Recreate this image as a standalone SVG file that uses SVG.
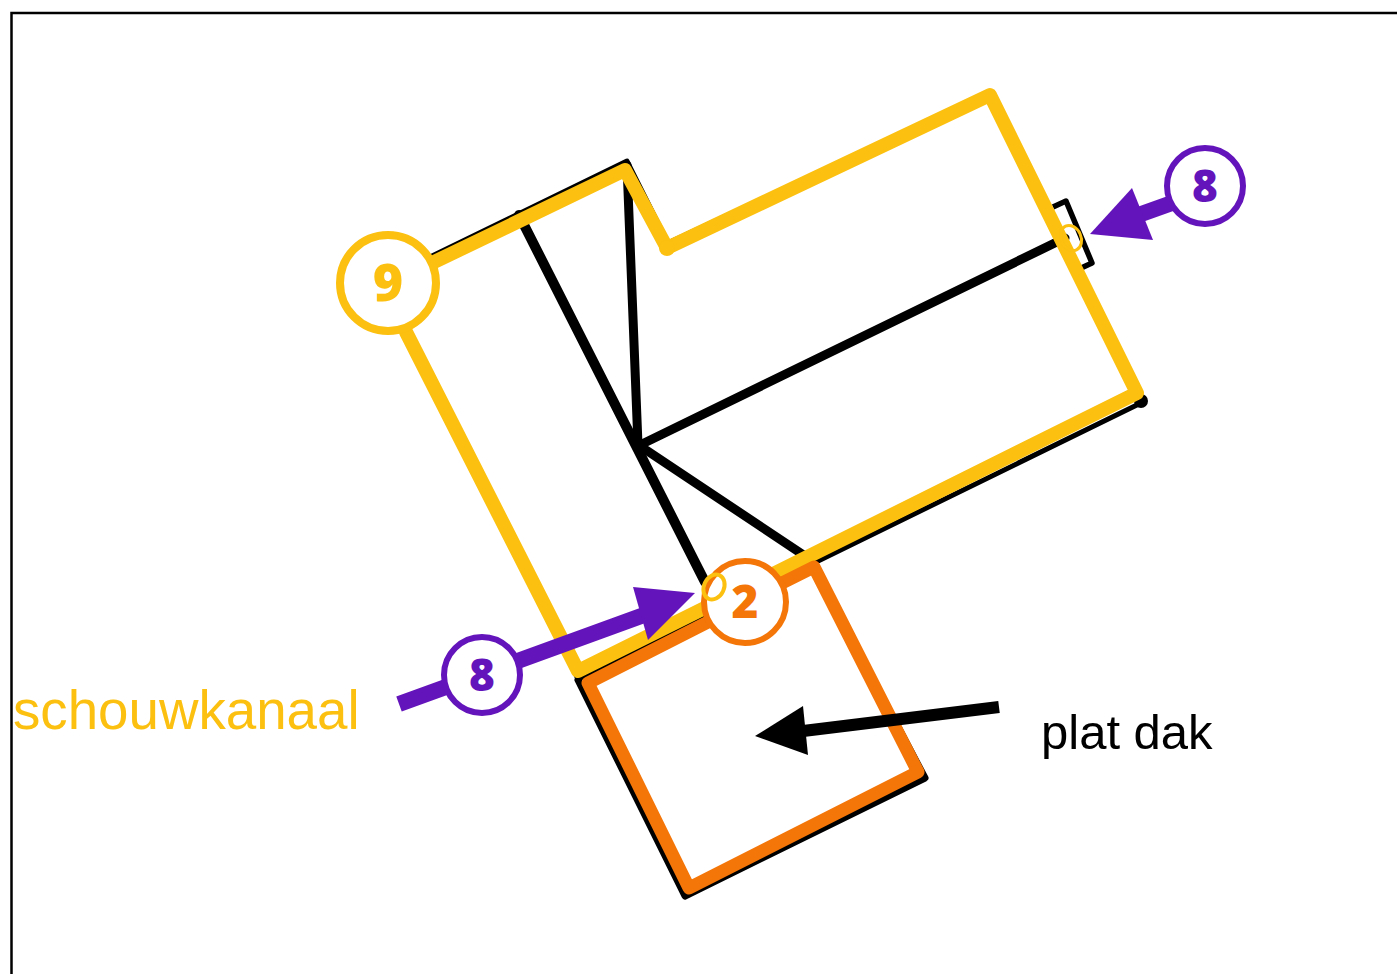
<svg xmlns="http://www.w3.org/2000/svg" width="1397" height="974" viewBox="0 0 1397 974">
<style>
.ln{fill:none;stroke-linecap:round;stroke-linejoin:round}
.k{stroke:#000}
.y{stroke:#fbc010}
.o{stroke:#f47508}
.c{fill:#fff;stroke-width:6}
.n{font-family:"Open Sans","Noto Sans",sans-serif;font-weight:800;text-anchor:middle}
.t{font-family:"Liberation Sans",Arial,sans-serif}
</style>
<rect width="1397" height="974" fill="#fff"/>
<path d="M11.500 974V13H1397" fill="none" stroke="#000" stroke-width="2.500"/>
<g id="connectors">
<path class="ln k" stroke-width="5" d="M430 257L627 161L668 243L990 93L1143 402L812 564"/>
<path class="ln k" stroke-width="7" d="M812 564L925 778L685 896L578 680"/>
<circle cx="1141" cy="401" r="7" fill="#000"/>
<path class="ln k" stroke-width="4" d="M578 680L405 330"/>
<path class="ln k" stroke-width="4" d="M578 680L812 564"/>
<path class="ln k" stroke-width="10" d="M519 215L705 582"/>
<path class="ln k" stroke-width="9" d="M627 165L638 445M638 446L1065 238M640 446L808 558"/>
<path fill="none" stroke="#000" stroke-width="5.500" stroke-linejoin="round" d="M1053 207L1066 201L1092 263L1079 269"/>
<path class="ln y" stroke-width="14" d="M406 332L578 671L1137 393L990 95L667 248L625 170L432 263"/>
<circle cx="667" cy="248" r="8" fill="#fbc010"/>
<path class="ln o" stroke-width="13" d="M710 621L588 683L689 888L918 772L814 567L780 584"/>
<path fill="none" stroke="#6414bb" stroke-width="16" d="M399 704L655 611M1130 218L1172 203"/>
<polygon fill="#6414bb" points="633,587 695,593 648,640"/>
<polygon fill="#6414bb" points="1090,234 1132,188 1153,240"/>
<path fill="none" stroke="#000" stroke-width="12" d="M999 707L795 732"/>
<polygon fill="#000" points="755,736 803,706 808,755"/>
</g>
<g id="node-9"><circle class="c" style="stroke-width:8" stroke="#fbc010" cx="388" cy="283" r="48"/><text class="n" fill="#fbc010" x="388" y="301" font-size="52">9</text></g>
<g id="node-2"><circle class="c" stroke="#f47508" cx="745" cy="602" r="41"/><text class="n" fill="#f47508" x="745" y="618" font-size="46">2</text></g>
<g id="node-8-right"><circle class="c" stroke="#6414bb" cx="1205" cy="186" r="38"/><text class="n" fill="#6414bb" x="1205" y="202" font-size="44">8</text></g>
<g id="node-8-left"><circle class="c" stroke="#6414bb" cx="482" cy="675" r="38"/><text class="n" fill="#6414bb" x="482" y="691" font-size="44">8</text></g>
<g id="markers">
<ellipse cx="1071" cy="238" rx="10" ry="13" fill="none" stroke="#fbc010" stroke-width="3" transform="rotate(-25 1071 238)"/>
<ellipse cx="714" cy="587" rx="10" ry="13" fill="none" stroke="#fbc010" stroke-width="4" transform="rotate(25 714 587)"/>
</g>
<text id="label-schouwkanaal" class="t" x="13" y="729" font-size="54.700" fill="#fbc010">schouwkanaal</text>
<text id="label-plat-dak" class="t" x="1041" y="749" font-size="49" fill="#000">plat dak</text>
</svg>
